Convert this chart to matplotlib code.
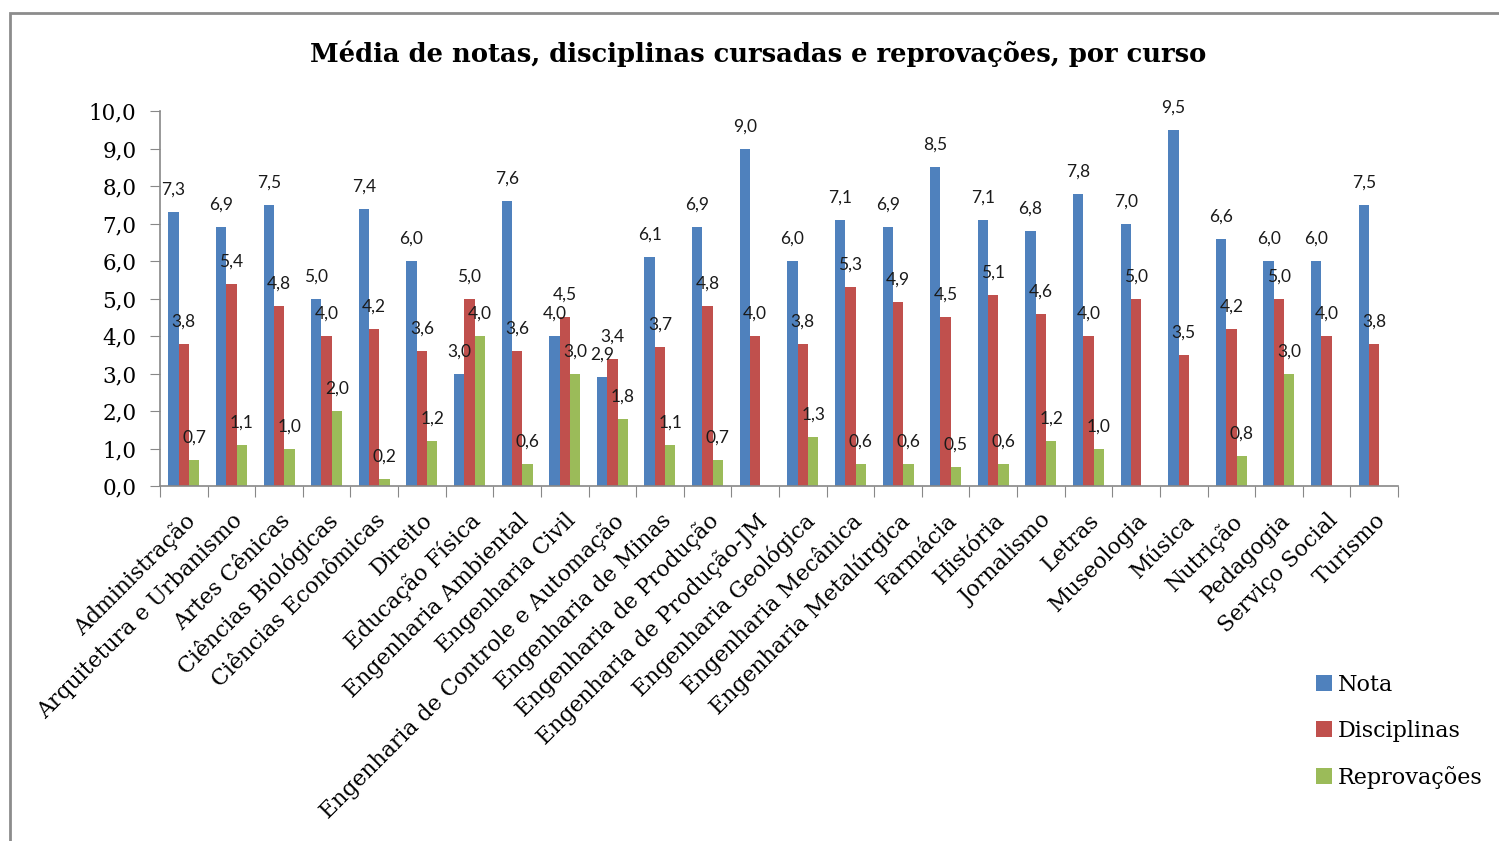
import numpy as np
import matplotlib.pyplot as plt
from matplotlib.patches import Rectangle
from matplotlib.ticker import FuncFormatter

# --- Data ---
cursos = ['Administração', 'Arquitetura e Urbanismo', 'Artes Cênicas',
          'Ciências Biológicas', 'Ciências Econômicas', 'Direito',
          'Educação Física', 'Engenharia Ambiental', 'Engenharia Civil',
          'Engenharia de Controle e Automação', 'Engenharia de Minas',
          'Engenharia de Produção', 'Engenharia de Produção-JM',
          'Engenharia Geológica', 'Engenharia Mecânica',
          'Engenharia Metalúrgica', 'Farmácia', 'História', 'Jornalismo',
          'Letras', 'Museologia', 'Música', 'Nutrição', 'Pedagogia',
          'Serviço Social', 'Turismo']
nota = [7.3, 6.9, 7.5, 5.0, 7.4, 6.0, 3.0, 7.6, 4.0, 2.9, 6.1, 6.9, 9.0,
        6.0, 7.1, 6.9, 8.5, 7.1, 6.8, 7.8, 7.0, 9.5, 6.6, 6.0, 6.0, 7.5]
disciplinas = [3.8, 5.4, 4.8, 4.0, 4.2, 3.6, 5.0, 3.6, 4.5, 3.4, 3.7, 4.8,
               4.0, 3.8, 5.3, 4.9, 4.5, 5.1, 4.6, 4.0, 5.0, 3.5, 4.2, 5.0,
               4.0, 3.8]
reprovacoes = [0.7, 1.1, 1.0, 2.0, 0.2, 1.2, 4.0, 0.6, 3.0, 1.8, 1.1, 0.7,
               None, 1.3, 0.6, 0.6, 0.5, 0.6, 1.2, 1.0, None, None, 0.8,
               3.0, None, None]

series = [('Nota', nota, '#4F81BD'),
          ('Disciplinas', disciplinas, '#C0504D'),
          ('Reprovações', reprovacoes, '#9BBB59')]

SERIF = 'DejaVu Serif'
LABEL_FONT = 'Lato'


def virgula(v, pos=None):
    return f'{v:.1f}'.replace('.', ',')


fig = plt.figure(figsize=(14.99, 8.41), dpi=100)
ax = fig.add_axes([160 / 1499, 1 - 486 / 841, 1238 / 1499, 375 / 841])

# outer chart border (cut off at right / bottom like the screenshot)
fig.patches.append(Rectangle((10 / 1499, -0.1), 1.2, 1 - 13 / 841 + 0.1,
                             transform=fig.transFigure, fill=False,
                             edgecolor='#8c8c8c', linewidth=2))

x = np.arange(len(cursos))
w = 0.217
for i, (nome, vals, cor) in enumerate(series):
    pos = x + (i - 1) * w
    h = [np.nan if v is None else v for v in vals]
    ax.bar(pos, h, width=w, color=cor, label=nome)
    for xp, v in zip(pos, vals):
        if v is None:
            continue
        ax.annotate(virgula(v), (xp, v), xytext=(0, 16),
                    textcoords='offset points', ha='center', va='center',
                    fontsize=12.5, family=LABEL_FONT, color='#1a1a1a')

ax.set_xlim(-0.5, len(cursos) - 0.5)
ax.set_ylim(0, 10)
ax.set_yticks(np.arange(0, 10.01, 1))
ax.yaxis.set_major_formatter(FuncFormatter(virgula))
ax.set_xticks(np.arange(-0.5, len(cursos), 1))
ax.set_xticklabels([])
ax.set_xticks(x, minor=True)
ax.set_xticklabels(cursos, minor=True, rotation=45, ha='right',
                   rotation_mode='anchor', fontsize=15.8, family=SERIF)
ax.tick_params(axis='x', which='minor', length=0, pad=17)
ax.tick_params(axis='x', which='major', length=8, color='#888888',
               direction='out')
ax.tick_params(axis='y', length=7, color='#888888', labelsize=15.5,
               pad=10)
for lbl in ax.get_yticklabels():
    lbl.set_family(SERIF)

for s in ['top', 'right']:
    ax.spines[s].set_visible(False)
for s in ['left', 'bottom']:
    ax.spines[s].set_color('#888888')
    ax.spines[s].set_linewidth(1.2)

fig.text(0.506, 1 - 54 / 841,
         'Média de notas, disciplinas cursadas e reprovações, por curso',
         ha='center', va='center', fontsize=18.6, fontweight='bold',
         family=SERIF)

leg = fig.legend(loc='upper left', bbox_to_anchor=(1296 / 1499, 1 - 654 / 841),
                 frameon=False, prop={'family': SERIF, 'size': 16},
                 handlelength=0.7, handleheight=0.7, handletextpad=0.3,
                 labelspacing=1.08)

fig.savefig('out.png', dpi=100, facecolor='white')
